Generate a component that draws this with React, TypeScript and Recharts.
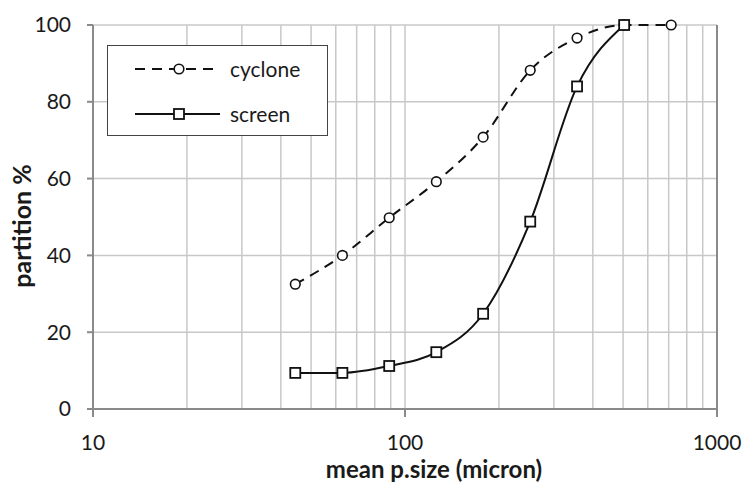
import React from 'react';
import { LineChart, Line, XAxis, YAxis, CartesianGrid, ReferenceLine, Legend } from 'recharts';

const sizes = [44.5, 63, 89, 126, 178, 252, 356, 504, 713];
const cyclone = [32.5, 40, 49.8, 59.2, 70.8, 88.2, 96.6, 100, 100];
const screen: (number | null)[] = [9.4, 9.4, 11.2, 14.8, 24.8, 48.8, 84, 100, null];
const xTicks = [10, 100, 1000];
const yTicks = [0, 20, 40, 60, 80, 100];
const minorX = [20, 30, 40, 50, 60, 70, 80, 90, 200, 300, 400, 500, 600, 700, 800, 900];
const seriesNames = ['cyclone', 'screen'];

const data = sizes.map((s, i) => ({ size: s, cyclone: cyclone[i], screen: screen[i] }));

const FONT = 'Lato, "Open Sans", sans-serif';
const TEXT = '#1a1a1a';
const GRID = '#c8c8c8';
const AXIS = '#8a8a8a';

const SquareDot = (props: any) => {
  const { cx, cy } = props;
  if (cx == null || cy == null) return null;
  const s = 10;
  return <rect x={cx - s / 2} y={cy - s / 2} width={s} height={s} fill="#fff" stroke="#111" strokeWidth={1.8} />;
};

const CircleDot = (props: any) => {
  const { cx, cy } = props;
  if (cx == null || cy == null) return null;
  return <circle cx={cx} cy={cy} r={4.8} fill="#fff" stroke="#111" strokeWidth={1.6} />;
};

const renderLegend = () => (
  <div
    style={{
      width: 221,
      height: 91,
      boxSizing: 'border-box',
      border: '1.5px solid #444',
      background: '#fff',
      fontFamily: FONT,
      fontSize: 21,
      color: TEXT,
    }}
  >
    {seriesNames.map((n, i) => (
      <div key={n} style={{ position: 'absolute', left: 0, top: i === 0 ? 11 : 56, height: 26, display: 'flex', alignItems: 'center' }}>
        <svg width={120} height={26} style={{ display: 'block' }}>
          {i === 0 ? (
            <>
              <line x1={28} y1={13} x2={112} y2={13} stroke="#111" strokeWidth={2} strokeDasharray="10 7" />
              <circle cx={72} cy={13} r={4.8} fill="#fff" stroke="#111" strokeWidth={1.6} />
            </>
          ) : (
            <>
              <line x1={28} y1={13} x2={113} y2={13} stroke="#111" strokeWidth={2} />
              <rect x={67} y={8} width={10} height={10} fill="#fff" stroke="#111" strokeWidth={1.8} />
            </>
          )}
        </svg>
        <span style={{ marginLeft: 3, lineHeight: '26px' }}>{n}</span>
      </div>
    ))}
  </div>
);

export default function App() {
  return (
    <div style={{ position: 'absolute', left: 0, top: 0, width: 744, height: 484, background: '#fff' }}>
      <LineChart width={744} height={484} data={data} margin={{ top: 25, right: 27, bottom: 0, left: 0 }}>
        <CartesianGrid vertical={false} stroke={GRID} strokeWidth={1.5} />
        {minorX.map((v) => (
          <ReferenceLine key={v} x={v} stroke={GRID} strokeWidth={1.5} ifOverflow="hidden" />
        ))}
        <ReferenceLine x={100} stroke={GRID} strokeWidth={1.5} />
        <ReferenceLine x={1000} stroke={AXIS} strokeWidth={2} />
        <XAxis
          dataKey="size"
          type="number"
          scale="log"
          domain={[10, 1000]}
          ticks={xTicks}
          allowDataOverflow
          height={75}
          stroke={AXIS}
          strokeWidth={2}
          tickSize={8}
          tickMargin={18}
          tick={{ fill: TEXT, fontSize: 21, fontFamily: FONT }}
          label={{ value: 'mean p.size (micron)', position: 'insideBottom', offset: 6, dx: 29, style: { fill: TEXT, fontSize: 24, fontWeight: 700, fontFamily: FONT } }}
        />
        <YAxis
          type="number"
          domain={[0, 100]}
          ticks={yTicks}
          width={93}
          stroke={AXIS}
          strokeWidth={2}
          tickSize={6}
          tickMargin={16}
          tick={{ fill: TEXT, fontSize: 21, fontFamily: FONT }}
          label={{ value: 'partition %', angle: -90, position: 'insideLeft', offset: 22, dy: 9, style: { fill: TEXT, fontSize: 25, fontWeight: 700, fontFamily: FONT, textAnchor: 'middle' } }}
        />
        <Legend
          layout="vertical"
          align="center"
          verticalAlign="middle"
          content={renderLegend}
          wrapperStyle={{ position: 'absolute', left: 107, top: 45, width: 221, height: 91 }}
        />
        <Line
          dataKey="cyclone"
          type="monotone"
          stroke="#111"
          strokeWidth={2}
          strokeDasharray="10 7"
          dot={<CircleDot />}
          activeDot={false}
          isAnimationActive={false}
        />
        <Line
          dataKey="screen"
          type="monotone"
          stroke="#111"
          strokeWidth={2}
          dot={<SquareDot />}
          activeDot={false}
          isAnimationActive={false}
        />
      </LineChart>
    </div>
  );
}
